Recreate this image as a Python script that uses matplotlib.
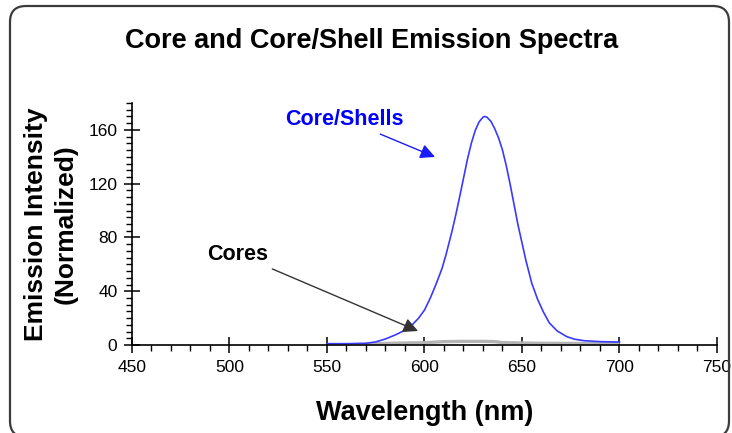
import numpy as np
import matplotlib.pyplot as plt
from matplotlib.patches import FancyBboxPatch
from matplotlib.ticker import MultipleLocator

plt.rcParams['font.family'] = ['Liberation Sans', 'DejaVu Sans']

# core/shell emission spectrum (wavelength nm, normalized intensity)
shell_wl = [550, 560, 570, 575, 580, 585, 590, 593, 597, 600, 603, 606, 609, 611,
            614, 616, 618, 620, 622, 624, 626, 628, 630, 631, 632, 634, 636, 638,
            640, 642, 644, 646, 648, 650, 652, 655, 658, 661, 664, 668, 673, 677,
            682, 690, 700]
shell_int = [1, 1, 1.3, 2.3, 4.5, 7.5, 11, 14, 20, 26, 35, 45.5, 57, 67,
             84, 96.5, 110, 124, 138, 150, 159.5, 166, 169.5, 170, 169.5, 166.5, 161, 154,
             145, 133, 119, 104, 89, 76, 63, 46, 34, 24.5, 16.5, 10.5, 6.2, 4.3,
             3.2, 2.5, 2.2]

# bare core emission spectrum
core_wl = [570, 580, 590, 600, 606, 610, 620, 630, 636, 640, 650, 660, 670, 680, 690, 700]
core_int = [0.5, 1.2, 1.5, 1.7, 2.2, 2.5, 2.7, 2.7, 2.5, 1.8, 1.5, 1.3, 1.2, 1.2, 1.1, 1.0]

fig = plt.figure(figsize=(7.32, 4.33), dpi=100)
ax = fig.add_axes([0.1803, 0.2032, 0.7992, 0.5588])

ax.plot(core_wl, core_int, color='#b4b4b4', lw=2.4, solid_capstyle='butt')
ax.plot(shell_wl, shell_int, color='#3a3aff', lw=1.2, solid_joinstyle='round')

ax.set_xlim(450, 750)
ax.set_ylim(0, 180)
ax.xaxis.set_major_locator(MultipleLocator(50))
ax.xaxis.set_minor_locator(MultipleLocator(10))
ax.yaxis.set_major_locator(MultipleLocator(40))
ax.yaxis.set_minor_locator(MultipleLocator(5))
ax.set_yticks([0, 40, 80, 120, 160])

for side in ['top', 'right']:
    ax.spines[side].set_visible(False)
for side in ['left', 'bottom']:
    ax.spines[side].set_linewidth(1.2)

ax.tick_params(which='major', direction='inout', length=11, width=1.1,
               labelsize=12.5, pad=5)
ax.tick_params(which='minor', direction='out', length=4.5, width=1.0)

ax.set_xlabel('Wavelength (nm)', fontsize=19.5, fontweight='bold', labelpad=18)
ax.set_ylabel('Emission Intensity\n(Normalized)', fontsize=19, fontweight='bold',
              labelpad=8, linespacing=1.3)

ax.annotate('Core/Shells', xy=(605.4, 139.9), xytext=(559, 168),
            color='#0000ff', fontsize=15.5, fontweight='bold', ha='center', va='center',
            arrowprops=dict(arrowstyle='-|>', color='#1a1aff', lw=1.0,
                            mutation_scale=22, shrinkA=3, shrinkB=0))
ax.annotate('Cores', xy=(596.7, 10.4), xytext=(504, 67.7),
            color='black', fontsize=15.5, fontweight='bold', ha='center', va='center',
            arrowprops=dict(arrowstyle='-|>', color='#333333', lw=1.0,
                            mutation_scale=22, shrinkA=3, shrinkB=0))

fig.text(0.508, 0.905, 'Core and Core/Shell Emission Spectra', ha='center', va='center',
         fontsize=19.5, fontweight='bold')

# rounded frame around the whole chart (pixel coordinates)
frame = FancyBboxPatch((10, -4), 719, 431, boxstyle='round,pad=0,rounding_size=16',
                       transform=None, fill=False, edgecolor='#3c3c3c', lw=1.6)
fig.patches.append(frame)

fig.savefig('out.png', dpi=100)
